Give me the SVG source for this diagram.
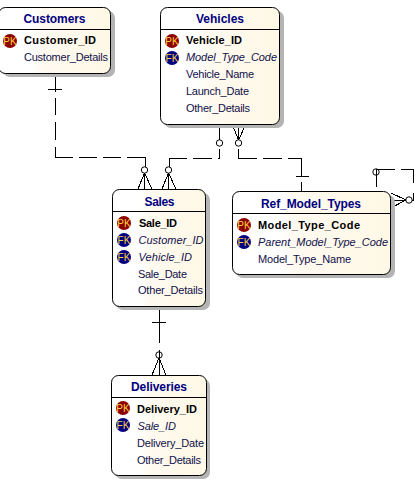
<svg xmlns="http://www.w3.org/2000/svg" width="414" height="481" viewBox="0 0 414 481">
<style>
text{font-family:"Liberation Sans",Arial,sans-serif;font-size:11px;fill:#10104a}
.t{font-weight:bold;fill:#000080;font-size:12px}
.pk{font-weight:bold;fill:#000}
.fk{font-style:italic}
.b{font-size:10px;fill:#ffd040;text-anchor:middle}
.box{fill:url(#cream);stroke:#000;stroke-width:1}
.sh{fill:#b4b4b4}
.sep{stroke:#000;stroke-width:1}
.rp{fill:#8b0000}.rf{fill:#000080}
#connectors *{fill:none;stroke:#000;stroke-width:1}
#connectors path{shape-rendering:crispEdges}
</style>
<defs>
<linearGradient id="cream" x1="0" x2="1" y1="0" y2="0"><stop offset="0" stop-color="#fff"/><stop offset=".3" stop-color="#fff"/><stop offset=".4" stop-color="#fffaf0"/><stop offset="1" stop-color="#fff8e6"/></linearGradient>
</defs>
<rect width="414" height="481" fill="#fff"/>
<g id="connectors">
<path d="M55.500 73V92M55.500 98V115M55.500 122V140M55.500 147V157.500H73M79 157.500H97M103 157.500H121M127 157.500H145.500V167"/>
<path d="M48 89.500H62"/>
<circle cx="144.500" cy="170" r="3.200"/><path d="M144.500 173L138 189M144.500 173L152 189M144.500 173V189"/>
<path d="M219.500 124V140M219.500 149V158.500H218M212 158.500H193M187 158.500H169.500V167"/>
<circle cx="219.500" cy="143" r="3.200"/>
<circle cx="168.500" cy="170" r="3.200"/><path d="M168.500 173L162 189M168.500 173L176 189M168.500 173V189"/>
<circle cx="238.500" cy="143" r="3.200"/><path d="M238.500 140L232 124M238.500 140L246 124M238.500 140V124"/>
<path d="M238.500 149V158.500H257M263 158.500H282M288 158.500H301.500V176M301.500 182V191"/>
<path d="M295.500 176.500H309"/>
<circle cx="376" cy="172" r="3.200"/>
<path d="M376.500 169V187M376.500 169.500H395M401 169.500H413.500V183M413.500 193V200"/>
<path d="M406 200L391 193M406 200L391 208M406 200H391M412 200H413.500"/>
<circle cx="409" cy="200" r="3.200"/>
<path d="M159.500 307V343M152 322.500H166M159.500 350V358"/>
<circle cx="159" cy="355" r="3.200"/><path d="M159 358L152 375M159 358L166 375M159 358V375"/>
</g>
<g id="customers">
<rect class="sh" x="3" y="11" width="112" height="66" rx="7"/>
<rect class="box" x="-1.500" y="7.500" width="112" height="66" rx="7"/>
<path class="sep" d="M-1 29.500H111"/>
<text class="t" x="23.500" y="23" textLength="62">Customers</text>
<circle class="rp" cx="10" cy="41" r="7"/><text class="b" x="10" y="44.500">PK</text>
<text class="pk" x="24" y="44" textLength="72">Customer_ID</text>
<text x="24" y="61" textLength="84">Customer_Details</text>
</g>
<g id="vehicles">
<rect class="sh" x="164" y="11" width="120" height="117" rx="7"/>
<rect class="box" x="160.500" y="7.500" width="119" height="117" rx="7"/>
<path class="sep" d="M161 29.500H279"/>
<text class="t" x="196" y="23" textLength="48">Vehicles</text>
<circle class="rp" cx="172" cy="41" r="7"/><text class="b" x="172" y="44.500">PK</text>
<circle class="rf" cx="172" cy="58" r="7"/><text class="b" x="172" y="61.500">FK</text>
<text class="pk" x="186" y="44" textLength="56">Vehicle_ID</text>
<text class="fk" x="186" y="61" textLength="91">Model_Type_Code</text>
<text x="186" y="78" textLength="68">Vehicle_Name</text>
<text x="186" y="95" textLength="63">Launch_Date</text>
<text x="186" y="112" textLength="64">Other_Details</text>
</g>
<g id="sales">
<rect class="sh" x="116" y="193" width="94" height="117" rx="7"/>
<rect class="box" x="112.500" y="189.500" width="93" height="117" rx="7"/>
<path class="sep" d="M113 211.500H205"/>
<text class="t" x="144.500" y="206" textLength="30">Sales</text>
<circle class="rp" cx="124" cy="223" r="7"/><text class="b" x="124" y="226.500">PK</text>
<circle class="rf" cx="124" cy="240" r="7"/><text class="b" x="124" y="243.500">FK</text>
<circle class="rf" cx="124" cy="257" r="7"/><text class="b" x="124" y="260.500">FK</text>
<text class="pk" x="139" y="227" textLength="38">Sale_ID</text>
<text class="fk" x="138.500" y="244" textLength="65">Customer_ID</text>
<text class="fk" x="138.500" y="261" textLength="53.500">Vehicle_ID</text>
<text x="138" y="278" textLength="49">Sale_Date</text>
<text x="138" y="294" textLength="65">Other_Details</text>
</g>
<g id="ref_model_types">
<rect class="sh" x="236" y="195" width="159" height="83" rx="7"/>
<rect class="box" x="232.500" y="191.500" width="158" height="83" rx="7"/>
<path class="sep" d="M233 213.500H390"/>
<text class="t" x="261" y="208" textLength="100">Ref_Model_Types</text>
<circle class="rp" cx="244" cy="225" r="7"/><text class="b" x="244" y="228.500">PK</text>
<circle class="rf" cx="244" cy="242" r="7"/><text class="b" x="244" y="245.500">FK</text>
<text class="pk" x="258" y="229" textLength="102">Model_Type_Code</text>
<text class="fk" x="258" y="246" textLength="130">Parent_Model_Type_Code</text>
<text x="258" y="263" textLength="93">Model_Type_Name</text>
</g>
<g id="deliveries">
<rect class="sh" x="115" y="379" width="95" height="100" rx="7"/>
<rect class="box" x="111.500" y="375.500" width="95" height="100" rx="7"/>
<path class="sep" d="M112 397.500H206"/>
<text class="t" x="131" y="391" textLength="56">Deliveries</text>
<circle class="rp" cx="123" cy="408" r="7"/><text class="b" x="123" y="411.500">PK</text>
<circle class="rf" cx="123" cy="425" r="7"/><text class="b" x="123" y="428.500">FK</text>
<text class="pk" x="137" y="413" textLength="60">Delivery_ID</text>
<text class="fk" x="137.500" y="430" textLength="38.500">Sale_ID</text>
<text x="137" y="447" textLength="67">Delivery_Date</text>
<text x="137" y="464" textLength="64">Other_Details</text>
</g>
</svg>
